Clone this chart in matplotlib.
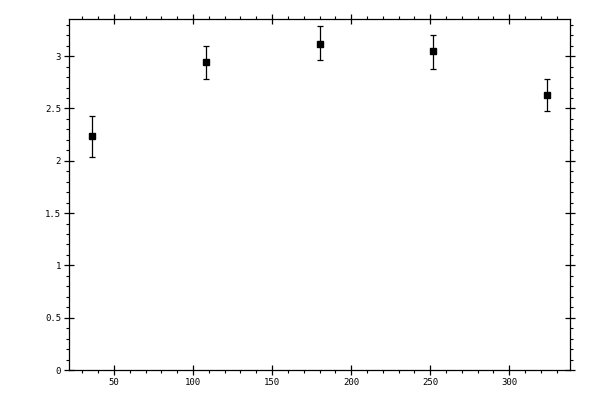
import matplotlib
matplotlib.use("Agg")
import matplotlib.pyplot as plt
from matplotlib.ticker import MultipleLocator

# values
x = [36, 108, 180, 252, 324]
y = [2.24, 2.94, 3.12, 3.045, 2.625]
err_low = [0.20, 0.155, 0.16, 0.17, 0.15]
err_high = [0.19, 0.155, 0.165, 0.16, 0.16]

plt.rcParams["font.family"] = "DejaVu Sans Mono"
plt.rcParams["font.size"] = 6.5

fig = plt.figure(figsize=(6, 4), dpi=100)
ax = fig.add_axes([0.115, 0.075, 0.835, 0.8775])

ax.errorbar(x, y, yerr=[err_low, err_high], fmt="s", color="black",
            markersize=5, capsize=2.2, elinewidth=0.9, capthick=0.9)

ax.set_xlim(21.6, 338.4)
ax.set_ylim(0, 3.355)
ax.xaxis.set_major_locator(MultipleLocator(50))
ax.xaxis.set_minor_locator(MultipleLocator(10))
ax.yaxis.set_major_locator(MultipleLocator(0.5))
ax.yaxis.set_minor_locator(MultipleLocator(0.1))
ax.yaxis.set_major_formatter(plt.FuncFormatter(lambda v, p: f"{v:g}"))

for s in ax.spines.values():
    s.set_linewidth(0.9)
ax.tick_params(which="major", direction="inout", length=6.5, width=0.9,
               top=True, right=True, labelsize=6.5, pad=2.5)
ax.tick_params(which="minor", direction="out", length=2.3, width=0.8,
               top=True, right=True)

fig.savefig("out.png", dpi=100)
